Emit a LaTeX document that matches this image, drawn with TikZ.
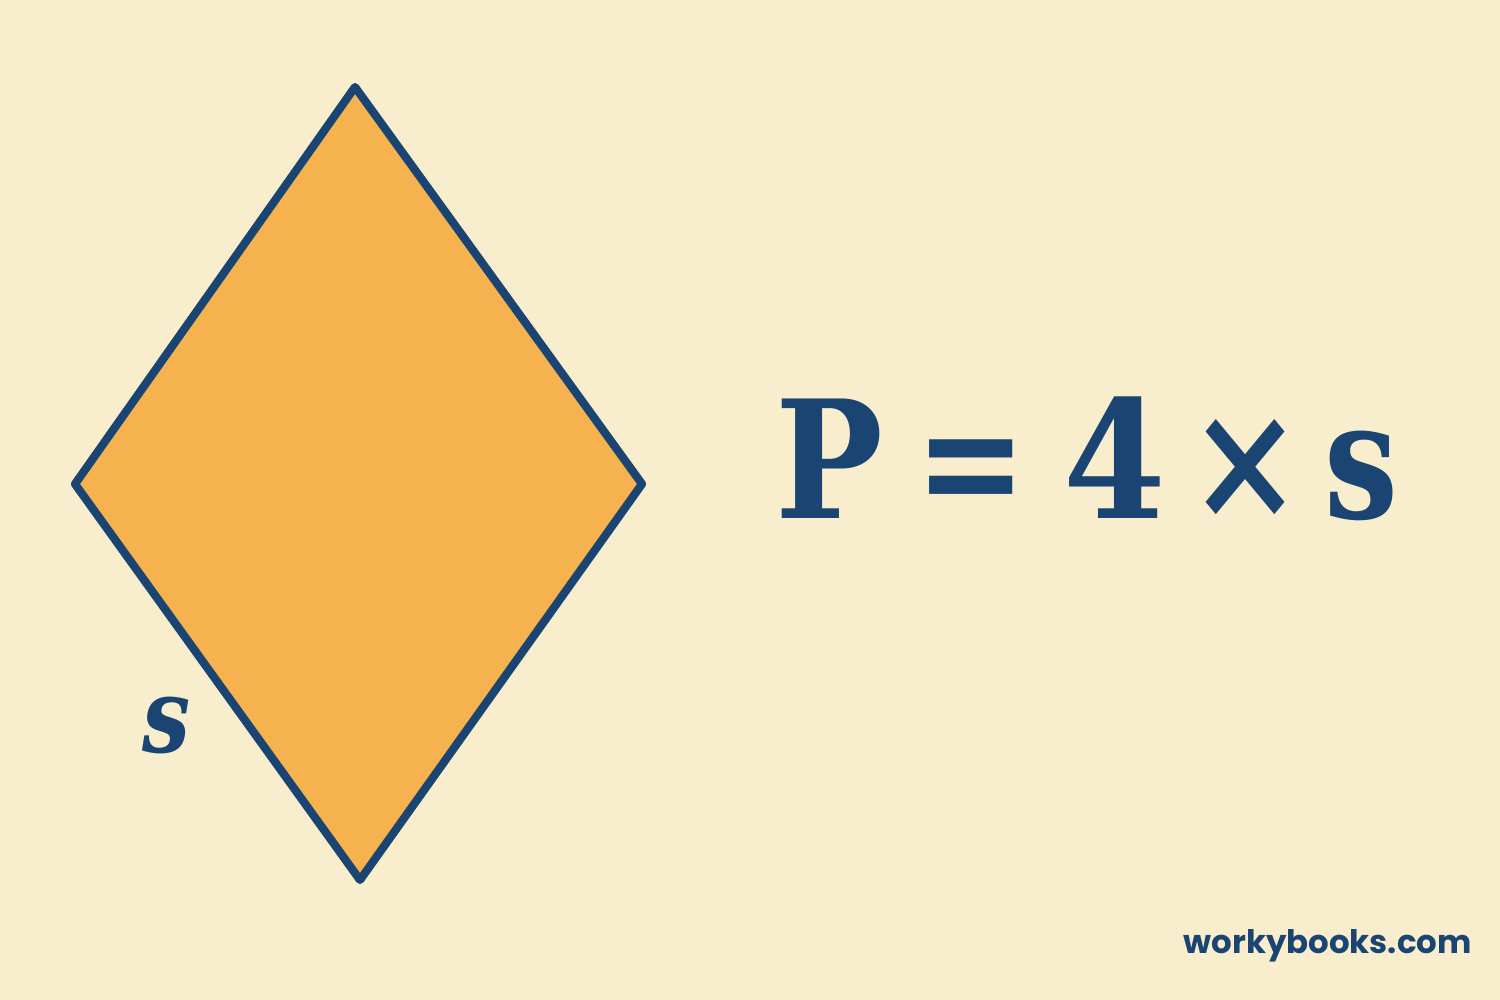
\documentclass[tikz,border=0pt]{standalone}
\usepackage{fontspec}
\setmainfont{DejaVu Serif}
\newfontfamily\wbfont{Poppins}
\definecolor{bg}{HTML}{F8EDCC}
\definecolor{navy}{HTML}{1A4573}
\definecolor{orng}{HTML}{F5B24E}
\newcommand{\narrow}[2]{\scalebox{#1}[1]{#2}}
\tikzset{
  formula/.style={text=navy, font=\fontsize{82}{90}\selectfont\bfseries, inner sep=0pt, anchor=base west},
  sidelabel/.style={text=navy, font=\fontsize{52}{60}\selectfont\bfseries\itshape, inner sep=0pt, anchor=base west},
  brand/.style={text=navy, font=\wbfont\fontsize{16.2}{18}\selectfont\bfseries, inner sep=0pt, anchor=base east}
}
\begin{document}
\begin{tikzpicture}[x=0.5pt,y=-0.5pt]
\fill[bg] (0,0) rectangle (1500,1000);
\useasboundingbox (0,0) rectangle (1500,1000);
\coordinate (T) at (355,87);
\coordinate (R) at (642,484);
\coordinate (B) at (360,880);
\coordinate (L) at (75,484);
\draw[navy, fill=orng, line width=4.1pt, line join=round] (T) -- (R) -- (B) -- (L) -- cycle;
\node[sidelabel] (s) at (142,752) {\narrow{0.82}{s}};
\node[formula] (P) at (775,518) {\narrow{0.875}{P}};
\node[formula] (eq) at (915,518) {\narrow{0.81}{=}};
\node[formula] (four) at (1063,518) {\narrow{0.9}{4}};
\node[formula] (times) at (1188,518) {\narrow{0.83}{×}};
\node[formula] (ss) at (1324,518) {\narrow{0.8}{s}};
\node[brand] (wb) at (1472,953) {workybooks.com};
\end{tikzpicture}
\end{document}
